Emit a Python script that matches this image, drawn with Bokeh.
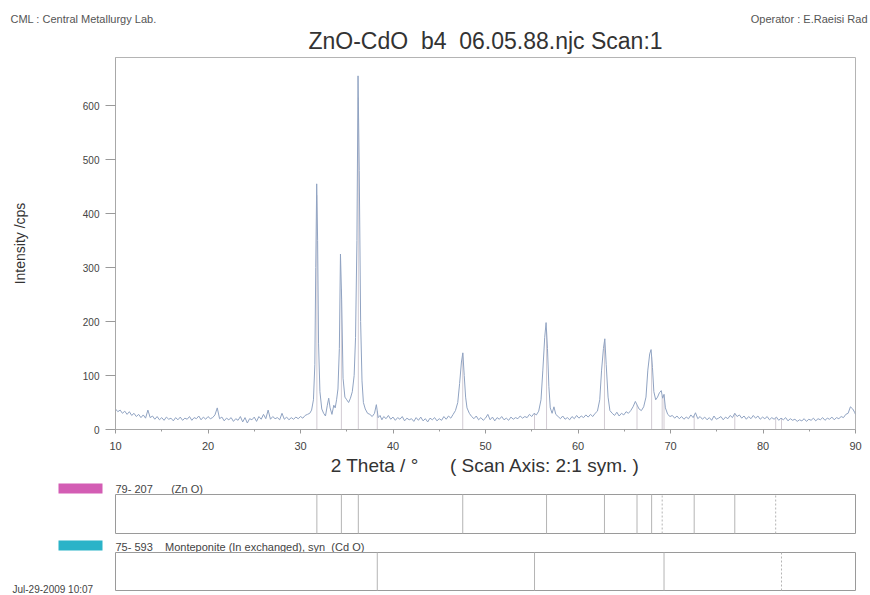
import numpy as np
from bokeh.plotting import figure
from bokeh.layouts import column
from bokeh.models import Range1d, FixedTicker
from bokeh.core.properties import value
from bokeh.embed import file_html
from bokeh.resources import INLINE

FONT = "Liberation Sans"

# ---------------- data ----------------
two_theta = [
    10.0, 10.25, 10.5, 10.75, 11.0, 11.25, 11.5, 11.75, 12.0, 12.25,
    12.5, 12.75, 13.0, 13.25, 13.5, 13.75, 14.0, 14.25, 14.5, 14.75,
    15.0, 15.25, 15.5, 15.75, 16.0, 16.25, 16.5, 16.75, 17.0, 17.25,
    17.5, 17.75, 18.0, 18.25, 18.5, 18.75, 19.0, 19.25, 19.5, 19.75,
    20.0, 20.25, 20.5, 20.75, 21.0, 21.25, 21.5, 21.75, 22.0, 22.25,
    22.5, 22.75, 23.0, 23.25, 23.5, 23.75, 24.0, 24.25, 24.5, 24.75,
    25.0, 25.25, 25.5, 25.75, 26.0, 26.25, 26.5, 26.75, 27.0, 27.25,
    27.5, 27.75, 28.0, 28.25, 28.5, 28.75, 29.0, 29.25, 29.5, 29.75,
    30.0, 30.25, 30.5, 30.75, 31.0, 31.2, 31.4, 31.55, 31.65, 31.75,
    31.85, 31.95, 32.1, 32.3, 32.5, 32.7, 32.9, 33.05, 33.2, 33.4,
    33.6, 33.75, 33.9, 34.05, 34.2, 34.32, 34.45, 34.6, 34.8, 35.0,
    35.2, 35.4, 35.6, 35.8, 35.95, 36.1, 36.22, 36.35, 36.5, 36.65,
    36.8, 37.0, 37.25, 37.5, 37.75, 38.0, 38.2, 38.4, 38.6, 38.8,
    39.0, 39.25, 39.5, 39.75, 40.0, 40.25, 40.5, 40.75, 41.0, 41.25,
    41.5, 41.75, 42.0, 42.25, 42.5, 42.75, 43.0, 43.25, 43.5, 43.75,
    44.0, 44.25, 44.5, 44.75, 45.0, 45.25, 45.5, 45.75, 46.0, 46.25,
    46.5, 46.75, 47.0, 47.2, 47.4, 47.55, 47.7, 47.85, 48.0, 48.25,
    48.5, 48.75, 49.0, 49.25, 49.5, 49.75, 50.0, 50.25, 50.5, 50.75,
    51.0, 51.25, 51.5, 51.75, 52.0, 52.25, 52.5, 52.75, 53.0, 53.25,
    53.5, 53.75, 54.0, 54.25, 54.5, 54.75, 55.0, 55.25, 55.5, 55.75,
    56.0, 56.2, 56.4, 56.55, 56.7, 56.85, 57.0, 57.2, 57.4, 57.6,
    57.85, 58.1, 58.35, 58.6, 58.85, 59.1, 59.35, 59.6, 59.85, 60.1,
    60.35, 60.6, 60.85, 61.1, 61.35, 61.6, 61.85, 62.1, 62.35, 62.55,
    62.75, 62.9, 63.05, 63.25, 63.45, 63.7, 63.95, 64.2, 64.45, 64.7,
    64.95, 65.2, 65.45, 65.7, 65.95, 66.2, 66.4, 66.6, 66.85, 67.1,
    67.35, 67.55, 67.75, 67.9, 68.05, 68.2, 68.4, 68.6, 68.8, 69.0,
    69.15, 69.3, 69.45, 69.7, 69.95, 70.2, 70.45, 70.7, 70.95, 71.2,
    71.45, 71.7, 71.95, 72.2, 72.45, 72.7, 72.95, 73.2, 73.45, 73.7,
    73.95, 74.2, 74.45, 74.7, 74.95, 75.2, 75.45, 75.7, 75.95, 76.2,
    76.45, 76.7, 76.95, 77.2, 77.45, 77.7, 77.95, 78.2, 78.45, 78.7,
    78.95, 79.2, 79.45, 79.7, 79.95, 80.2, 80.45, 80.7, 80.95, 81.2,
    81.45, 81.7, 81.95, 82.2, 82.45, 82.7, 82.95, 83.2, 83.45, 83.7,
    83.95, 84.2, 84.45, 84.7, 84.95, 85.2, 85.45, 85.7, 85.95, 86.2,
    86.45, 86.7, 86.95, 87.2, 87.45, 87.7, 87.95, 88.2, 88.45, 88.7,
    88.95, 89.2, 89.45, 89.7, 89.9, 90.0,
]
intensity = [
    38, 33, 36, 30, 34, 28, 33, 26, 30, 24,
    28, 22, 27, 21, 36, 22, 25, 19, 24, 18,
    22, 17, 23, 19, 21, 16, 22, 18, 23, 17,
    21, 19, 24, 17, 22, 20, 25, 18, 23, 19,
    24, 20, 22, 27, 40, 20, 23, 16, 21, 18,
    22, 15, 20, 17, 24, 14, 22, 12, 20, 18,
    23, 15, 24, 19, 28, 20, 36, 19, 24, 20,
    22, 18, 30, 19, 23, 18, 22, 19, 23, 20,
    24, 21, 26, 28, 30, 36, 55, 120, 300, 455,
    350, 160, 70, 38, 30, 25, 45, 58, 40, 28,
    45, 40, 55, 75, 150, 325, 240, 95, 60, 55,
    50, 58, 70, 100, 170, 350, 655, 480, 200, 90,
    50, 38, 30, 28, 24, 30, 46, 22, 26, 18,
    24, 20, 26, 19, 23, 17, 22, 19, 24, 16,
    21, 18, 20, 15, 22, 17, 23, 16, 20, 14,
    21, 18, 22, 16, 20, 17, 24, 19, 25, 21,
    28, 35, 50, 85, 125, 142, 100, 60, 40, 30,
    24, 20, 25, 18, 22, 17, 21, 28, 18, 23,
    16, 22, 19, 24, 18, 21, 17, 23, 19, 22,
    20, 25, 21, 24, 22, 28, 24, 30, 27, 34,
    55, 110, 170, 198, 150, 80, 40, 30, 42, 28,
    24, 20, 25, 19, 22, 18, 24, 20, 26, 21,
    25, 22, 27, 23, 28, 24, 30, 34, 55, 110,
    150, 168, 120, 60, 35, 30, 26, 32, 25, 30,
    27, 33, 30, 35, 42, 52, 45, 38, 35, 42,
    60, 110, 140, 148, 115, 70, 55, 60, 68, 72,
    58, 65, 40, 28, 24, 26, 21, 25, 20, 24,
    19, 23, 20, 27, 22, 31, 20, 24, 19, 23,
    18, 22, 17, 25, 19, 21, 24, 18, 23, 20,
    26, 22, 30, 24, 27, 21, 25, 19, 24, 20,
    26, 21, 25, 19, 23, 20, 24, 18, 22, 19,
    23, 17, 21, 18, 22, 16, 20, 17, 19, 15,
    18, 16, 20, 15, 19, 17, 21, 16, 20, 18,
    22, 17, 21, 19, 23, 18, 22, 20, 24, 22,
    28, 30, 42, 38, 32, 28,
]
assert len(two_theta) == len(intensity)

x_ticks = [10, 20, 30, 40, 50, 60, 70, 80, 90]
y_ticks = [0, 100, 200, 300, 400, 500, 600]

# reference patterns (2theta positions, dotted flag)
zno_pos = [31.77, 34.42, 36.25, 47.54, 56.60, 62.86, 66.38, 67.96, 69.10, 72.56, 76.95, 81.37]
zno_dotted = [False, False, False, False, False, False, False, False, True, False, False, True]
cdo_pos = [38.3, 55.3, 69.3, 82.0]
cdo_dotted = [False, False, False, True]

NB = "\u00a0"
title_text = "ZnO-CdO" + NB * 2 + "b4" + NB * 2 + "06.05.88.njc Scan:1"
lab_text = "CML : Central Metallurgy Lab."
operator_text = "Operator : E.Raeisi Rad"
zno_label = "79- 207" + NB * 6 + "(Zn O)"
cdo_label = "75- 593" + NB * 4 + "Monteponite (In exchanged), syn" + NB * 2 + "(Cd O)"
date_text = "Jul-29-2009 10:07"
x_label = "2 Theta / \u00b0" + NB * 6 + "( Scan Axis: 2:1 sym. )"
y_label = "Intensity /cps"

# ---------------- layout ----------------
W = 870
LEFT = 115
RIGHT = 15
FRAME_W = W - LEFT - RIGHT
x_span = x_ticks[-1] - x_ticks[0]
wide_start = x_ticks[0] - LEFT * x_span / FRAME_W
wide_end = x_ticks[-1] + RIGHT * x_span / FRAME_W


def px2x(px):
    return wide_start + px * x_span / FRAME_W


def bare(height):
    f = figure(width=W, height=height, x_range=Range1d(wide_start, wide_end),
               y_range=Range1d(0, height), toolbar_location=None, output_backend="svg",
               x_axis_location=None, y_axis_location=None, min_border=0, frame_align=False)
    f.grid.visible = False
    f.outline_line_color = None
    return f


# header (page y 0..56)
HDR_H = 56
hdr = bare(HDR_H)
hdr.text(x=[px2x(10)], y=[HDR_H - 18], text=[lab_text], text_font=value(FONT), text_font_size="11px",
         text_color="#555555", text_baseline="middle")
hdr.text(x=[px2x(867)], y=[HDR_H - 18], text=[operator_text], text_font=value(FONT),
         text_font_size="11px", text_color="#555555", text_baseline="middle", text_align="right")
hdr.text(x=[px2x(485)], y=[HDR_H - 40], text=[title_text], text_font=value(FONT),
         text_font_size="23px", text_color="#333333", text_baseline="middle", text_align="center")

# main plot (page y 56..478)
P_H = 422
p = figure(width=W, height=P_H, x_range=Range1d(x_ticks[0], x_ticks[-1]), y_range=Range1d(0, 689),
           toolbar_location=None, output_backend="svg", frame_align=False,
           min_border_left=LEFT, min_border_right=RIGHT, min_border_top=1, min_border_bottom=48)
p.grid.visible = False
p.outline_line_color = "#b4b4b4"

stick_x = zno_pos + cdo_pos
stick_top = list(np.interp(stick_x, two_theta, intensity))
p.segment(x0=stick_x, y0=[0] * len(stick_x), x1=stick_x, y1=stick_top,
          line_color="#d2cbd3", line_width=1)
p.line(two_theta, intensity, line_color="#90a3c2", line_width=1)

minor = [(a + b) / 2 for a, b in zip(x_ticks[:-1], x_ticks[1:])]
p.xaxis.ticker = FixedTicker(ticks=x_ticks, minor_ticks=minor)
p.yaxis.ticker = FixedTicker(ticks=y_ticks)
for ax in (p.xaxis, p.yaxis):
    ax.axis_line_color = "#a8a8a8"
    ax.major_tick_line_color = "#9a9a9a"
    ax.major_tick_in = 0
    ax.major_label_text_font = FONT
    ax.major_label_text_color = "#444444"
    ax.axis_label_text_font = FONT
    ax.axis_label_text_font_style = "normal"
    ax.axis_label_text_color = "#333333"
p.xaxis.major_tick_out = 4
p.xaxis.minor_tick_line_color = "#9a9a9a"
p.xaxis.minor_tick_in = 0
p.xaxis.minor_tick_out = 2
p.xaxis.major_label_text_font_size = "11px"
p.xaxis.major_label_standoff = 8
p.xaxis.axis_label = x_label
p.xaxis.axis_label_text_font_size = "19px"
p.xaxis.axis_label_standoff = 2

p.yaxis.minor_tick_line_color = None
p.yaxis.major_tick_out = 10
p.yaxis.major_label_text_font_size = "10px"
p.yaxis.major_label_standoff = 6
p.yaxis.axis_label = y_label
p.yaxis.axis_label_text_font_size = "14px"
p.yaxis.axis_label_standoff = 52


def ref_panel(height, box_top, box_bottom, sw_top, sw_bottom, text_y, color, label, pos, dotted):
    f = bare(height)
    f.quad(left=[px2x(58)], right=[px2x(102)], bottom=[sw_bottom], top=[sw_top],
           fill_color=color, line_color=None)
    f.text(x=[x_ticks[0]], y=[text_y], text=[label], text_font=value(FONT),
           text_font_size="11px", text_color="#444444", text_baseline="middle")
    f.quad(left=[x_ticks[0]], right=[x_ticks[-1]], bottom=[box_bottom], top=[box_top],
           fill_color=None, line_color="#9a9a9a", line_width=1)
    solid = [x for x, d in zip(pos, dotted) if not d]
    dots = [x for x, d in zip(pos, dotted) if d]
    f.segment(x0=solid, y0=[box_bottom] * len(solid), x1=solid, y1=[box_top] * len(solid),
              line_color="#b4b4b4", line_width=1)
    f.segment(x0=dots, y0=[box_bottom] * len(dots), x1=dots, y1=[box_top] * len(dots),
              line_color="#b4b4b4", line_width=1, line_dash="2 2")
    return f


# ZnO panel: page y 478..538
zno = ref_panel(60, 538 - 494, 538 - 533, 538 - 483, 538 - 493, 538 - 488,
                "#d35db4", zno_label, zno_pos, zno_dotted)
# CdO panel: page y 538..595
cdo = ref_panel(57, 595 - 552, 595 - 590, 595 - 540, 595 - 550, 595 - 546,
                "#2bb3c8", cdo_label, cdo_pos, cdo_dotted)
cdo.text(x=[px2x(12)], y=[595 - 589], text=[date_text], text_font=value(FONT), text_font_size="10px",
         text_color="#444444", text_baseline="middle")

layout = column(hdr, p, zno, cdo, spacing=0)
open("out.html", "w").write(file_html(layout, INLINE))
